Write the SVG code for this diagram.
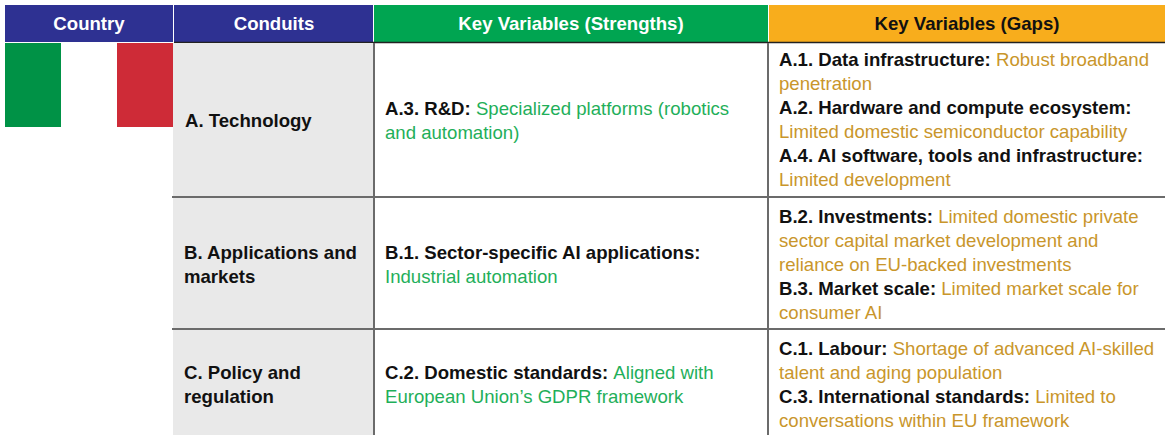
<svg xmlns="http://www.w3.org/2000/svg" width="1165" height="435" viewBox="0 0 1165 435">
<style>
text{font-family:"Liberation Sans",Arial,sans-serif;font-size:18.6px}
.h{font-weight:bold;text-anchor:middle;fill:#fff}
.b{font-weight:bold;fill:#111}
.g{fill:#1FAF5A}
.o{fill:#C9962B}
.ln{stroke:#6b6b6b;stroke-width:2;fill:none}
</style>
<rect width="1165" height="435" fill="#fff"/>
<g id="header">
<rect x="5" y="5" width="168" height="37" fill="#2E3192"/>
<rect x="174" y="5" width="199" height="37" fill="#2E3192"/>
<rect x="374" y="5" width="394" height="37" fill="#00A551"/>
<rect x="769" y="5" width="396" height="37" fill="#F8AD1C"/>
<text class="h" x="89" y="30">Country</text>
<text class="h" x="274" y="30">Conduits</text>
<text class="h" x="571" y="30">Key Variables (Strengths)</text>
<text class="h" x="967" y="30" style="fill:#111">Key Variables (Gaps)</text>
<line x1="174" y1="42.5" x2="1165" y2="42.5" stroke="#222" stroke-width="1.5"/>
</g>
<g id="flag">
<rect x="5" y="43" width="56" height="84" fill="#009246"/>
<rect x="61" y="43" width="56" height="84" fill="#fff"/>
<rect x="117" y="43" width="56" height="84" fill="#CE2B37"/>
</g>
<rect x="173" y="43" width="200" height="392" fill="#E9E9E9"/>
<g id="grid">
<line class="ln" x1="374" y1="43" x2="374" y2="435"/>
<line class="ln" x1="768" y1="43" x2="768" y2="435"/>
<line class="ln" x1="172" y1="197" x2="1165" y2="197"/>
<line class="ln" x1="172" y1="329" x2="1165" y2="329"/>
</g>
<g id="rowA">
<text class="b" x="185" y="127">A. Technology</text>
<text x="385" y="115"><tspan class="b">A.3. R&amp;D: </tspan><tspan class="g">Specialized platforms (robotics</tspan></text>
<text class="g" x="385" y="139">and automation)</text>
<text x="779" y="66"><tspan class="b">A.1. Data infrastructure: </tspan><tspan class="o">Robust broadband</tspan></text>
<text class="o" x="779" y="90">penetration</text>
<text class="b" x="779" y="114">A.2. Hardware and compute ecosystem:</text>
<text class="o" x="779" y="138">Limited domestic semiconductor capability</text>
<text class="b" x="779" y="162">A.4. AI software, tools and infrastructure:</text>
<text class="o" x="779" y="186">Limited development</text>
</g>
<g id="rowB">
<text class="b" x="184" y="259">B. Applications and</text>
<text class="b" x="184" y="283">markets</text>
<text class="b" x="385" y="259">B.1. Sector-specific AI applications:</text>
<text class="g" x="385" y="283">Industrial automation</text>
<text x="779" y="223"><tspan class="b">B.2. Investments: </tspan><tspan class="o">Limited domestic private</tspan></text>
<text class="o" x="779" y="247">sector capital market development and</text>
<text class="o" x="779" y="271">reliance on EU-backed investments</text>
<text x="779" y="295"><tspan class="b">B.3. Market scale: </tspan><tspan class="o">Limited market scale for</tspan></text>
<text class="o" x="779" y="319">consumer AI</text>
</g>
<g id="rowC">
<text class="b" x="184" y="379">C. Policy and</text>
<text class="b" x="184" y="403">regulation</text>
<text x="385" y="379"><tspan class="b">C.2. Domestic standards: </tspan><tspan class="g">Aligned with</tspan></text>
<text class="g" x="385" y="403">European Union’s GDPR framework</text>
<text x="779" y="355"><tspan class="b">C.1. Labour: </tspan><tspan class="o">Shortage of advanced AI-skilled</tspan></text>
<text class="o" x="779" y="379">talent and aging population</text>
<text x="779" y="403"><tspan class="b">C.3. International standards: </tspan><tspan class="o">Limited to</tspan></text>
<text class="o" x="779" y="427">conversations within EU framework</text>
</g>
</svg>
